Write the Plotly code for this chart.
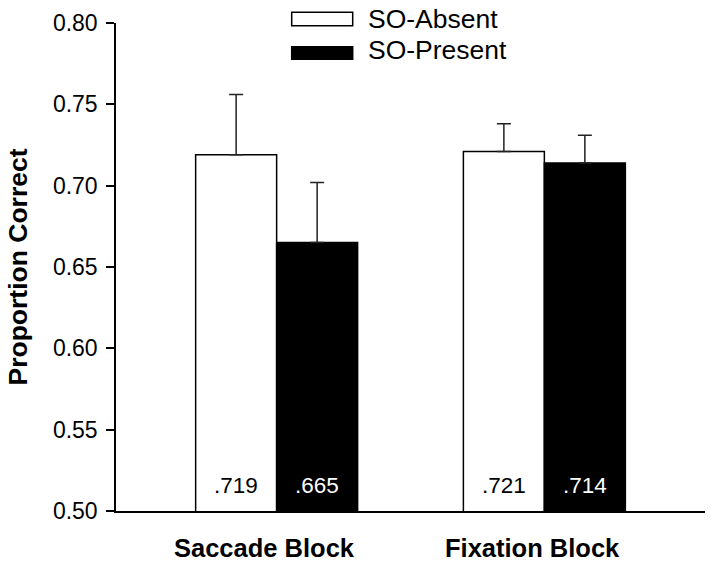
import plotly.graph_objects as go

categories = ["Saccade Block", "Fixation Block"]
series_names = ["SO-Absent", "SO-Present"]
so_absent = [0.719, 0.721]
so_present = [0.665, 0.714]
err_absent = [0.037, 0.017]
err_present = [0.037, 0.017]
y_ticks = [0.50, 0.55, 0.60, 0.65, 0.70, 0.75, 0.80]

FONT = "Liberation Sans, Arial, sans-serif"
W, H = 714, 566
ML, MR, MT, MB = 116, 9, 23, 55
XR = [-0.6, 1.6]
BARGAP = 0.395

fig = go.Figure()
fills = ["white", "black"]
for name, vals, errs, fill in zip(series_names, [so_absent, so_present],
                                   [err_absent, err_present], fills):
    fig.add_trace(go.Bar(
        x=categories, y=vals, name=name,
        marker=dict(color=fill, line=dict(color="black", width=1.5)),
        error_y=dict(type="data", array=errs, arrayminus=[0] * len(errs),
                     symmetric=False, color="#222222", thickness=1.5, width=7),
        showlegend=False, hoverinfo="skip",
    ))

# value labels at bar bottoms
plot_w = W - ML - MR
px_per_unit = plot_w / (XR[1] - XR[0])
half_bar = (1 - BARGAP) / 4 * px_per_unit
for si, (vals, col) in enumerate(zip([so_absent, so_present], ["black", "white"])):
    for cat, v in zip(categories, vals):
        fig.add_annotation(
            x=cat, y=0.5, xref="x", yref="y", yanchor="bottom",
            text="." + f"{v:.3f}".split(".")[1], showarrow=False,
            xshift=(-half_bar if si == 0 else half_bar), yshift=11,
            font=dict(family=FONT, size=22.5, color=col),
        )

# category labels
for cat in categories:
    fig.add_annotation(
        x=cat, y=0, xref="x", yref="paper", yanchor="middle",
        text=cat, showarrow=False, xshift=-12, yshift=-37,
        font=dict(family=FONT, size=25.5, color="black", weight="bold"),
    )

# custom legend
plot_h = H - MT - MB
def py(p):  # pixel y -> paper
    return (H - MB - p) / plot_h
def px(p):
    return (p - ML) / plot_w
leg_rows = [(12.3, 25.7, 18.5), (46.7, 59.3, 50.5)]
for name, fill, (y0, y1, yc) in zip(series_names, fills, leg_rows):
    fig.add_shape(type="rect", xref="paper", yref="paper",
                  x0=px(291.7), x1=px(352.7), y0=py(y1), y1=py(y0),
                  fillcolor=fill, line=dict(color="black", width=1.5))
    fig.add_annotation(x=px(366), y=py(yc), xref="paper", yref="paper",
                       xanchor="left", yanchor="middle", text=name,
                       showarrow=False,
                       font=dict(family=FONT, size=26.5, color="black"))

fig.update_layout(
    width=W, height=H,
    margin=dict(l=ML, r=MR, t=MT, b=MB, pad=0),
    plot_bgcolor="white", paper_bgcolor="white",
    barmode="group", bargap=BARGAP, bargroupgap=0,
    font=dict(family=FONT, color="black"),
    xaxis=dict(range=XR, showticklabels=False, ticks="", showline=True,
               linecolor="black", linewidth=1.5, showgrid=False,
               zeroline=False),
    yaxis=dict(range=[0.5, 0.8], tickvals=y_ticks,
               ticktext=[f"{t:.2f}" for t in y_ticks],
               ticks="outside", ticklen=8, tickwidth=1.5, tickcolor="black",
               showline=True, linecolor="black", linewidth=1.5,
               showgrid=False, zeroline=False,
               tickfont=dict(family=FONT, size=23, color="black"),
               ticklabelstandoff=4,
               title=dict(text="Proportion Correct", standoff=18,
                          font=dict(family=FONT, size=26.5, color="black",
                                    weight="bold"))),
)

fig.write_html(
    "out.html",
    config={"displayModeBar": False},
    post_script="document.body.style.margin='0';document.body.style.padding='0';"
                "document.body.style.overflow='hidden';",
)
